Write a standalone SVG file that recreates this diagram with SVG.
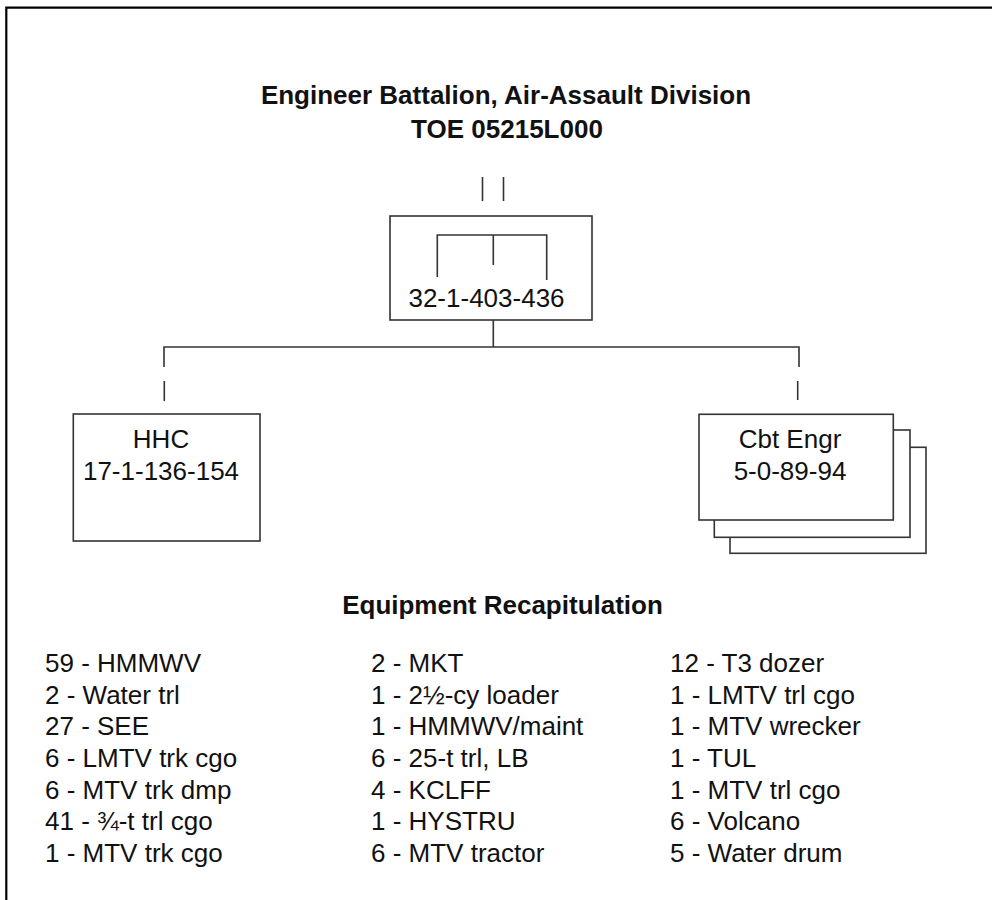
<svg xmlns="http://www.w3.org/2000/svg" width="992" height="900" viewBox="0 0 992 900">
<style>
.frame{fill:none;stroke:#000;stroke-width:2.2}
.box{fill:#fff;stroke:#333;stroke-width:1.6}
.ln{fill:none;stroke:#333;stroke-width:1.6}
.t{font-family:"Liberation Sans",Arial,sans-serif;font-size:26px;fill:#111}
.b{font-weight:bold}
.c{text-anchor:middle}
</style>
<rect width="992" height="900" fill="#fff"/>
<path class="frame" d="M6.3,900 V7.7 H992"/>
<g id="title">
<text class="t b c" x="506" y="104">Engineer Battalion, Air-Assault Division</text>
<text class="t b c" x="507" y="138">TOE 05215L000</text>
</g>
<g id="connectors">
<line class="ln" x1="482.5" y1="177" x2="482.5" y2="201"/>
<line class="ln" x1="503.5" y1="177" x2="503.5" y2="201"/>
<path class="ln" d="M493.3,320 V347 M164,367 V347 H799 V367"/>
<line class="ln" x1="164.3" y1="381" x2="164.3" y2="401"/>
<line class="ln" x1="797.7" y1="381" x2="797.7" y2="400"/>
</g>
<g id="battalion">
<rect class="box" x="390" y="216" width="202" height="104"/>
<path class="ln" d="M437.3,277 V235 H546.7 V280 M493.3,235 V265"/>
<text class="t c" x="486.5" y="307">32-1-403-436</text>
</g>
<g id="hhc">
<rect class="box" x="73.3" y="414" width="186.7" height="127"/>
<text class="t c" x="161" y="448">HHC</text>
<text class="t c" x="161" y="480">17-1-136-154</text>
</g>
<g id="cbt-engr">
<rect class="box" x="730" y="447.3" width="196" height="106"/>
<rect class="box" x="714.3" y="430" width="195.7" height="107.3"/>
<rect class="box" x="699" y="414.3" width="194.3" height="105.7"/>
<text class="t c" x="790" y="448">Cbt Engr</text>
<text class="t c" x="790" y="480">5-0-89-94</text>
</g>
<g id="equipment">
<text class="t b c" x="502.5" y="614">Equipment Recapitulation</text>
<g class="t">
<text x="45" y="672">59 - HMMWV</text>
<text x="45" y="703.7">2 - Water trl</text>
<text x="45" y="735.3">27 - SEE</text>
<text x="45" y="767">6 - LMTV trk cgo</text>
<text x="45" y="798.7">6 - MTV trk dmp</text>
<text x="45" y="830.3">41 - ¾-t trl cgo</text>
<text x="45" y="862">1 - MTV trk cgo</text>
<text x="371" y="672">2 - MKT</text>
<text x="371" y="703.7">1 - 2½-cy loader</text>
<text x="371" y="735.3">1 - HMMWV/maint</text>
<text x="371" y="767">6 - 25-t trl, LB</text>
<text x="371" y="798.7">4 - KCLFF</text>
<text x="371" y="830.3">1 - HYSTRU</text>
<text x="371" y="862">6 - MTV tractor</text>
<text x="670" y="672">12 - T3 dozer</text>
<text x="670" y="703.7">1 - LMTV trl cgo</text>
<text x="670" y="735.3">1 - MTV wrecker</text>
<text x="670" y="767">1 - TUL</text>
<text x="670" y="798.7">1 - MTV trl cgo</text>
<text x="670" y="830.3">6 - Volcano</text>
<text x="670" y="862">5 - Water drum</text>
</g>
</g>
</svg>
